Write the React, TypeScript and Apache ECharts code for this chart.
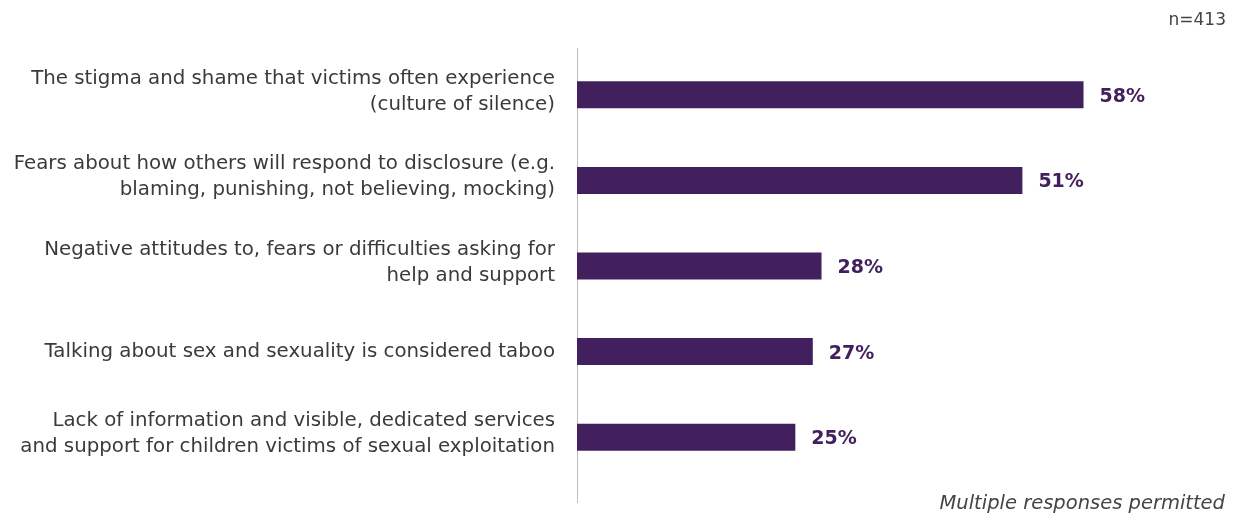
import React, { useEffect, useRef } from "react";
import * as echarts from "echarts";

const categories = [
  "The stigma and shame that victims often experience\n(culture of silence)",
  "Fears about how others will respond to disclosure (e.g.\nblaming, punishing, not believing, mocking)",
  "Negative attitudes to, fears or difficulties asking for\nhelp and support",
  "Talking about sex and sexuality is considered taboo",
  "Lack of information and visible, dedicated services\nand support for children victims of sexual exploitation",
];
const values = [58, 51, 28, 27, 25];
const sampleNote = "n=413";
const footNote = "Multiple responses permitted";

const FONT = "DejaVu Sans";

export default function App() {
  const ref = useRef<HTMLDivElement>(null);
  useEffect(() => {
    const chart = echarts.init(ref.current!, null, { renderer: "svg" });
    const labelStyle = {
      color: "#3a3a3a",
      fontSize: 19.8,
      fontFamily: FONT,
      lineHeight: 26,
      align: "right",
    };
    chart.setOption({
      animation: false,
      textStyle: { fontFamily: FONT },
      grid: { left: 577, top: 52, width: 524, height: 428, containLabel: false },
      xAxis: {
        type: "value",
        min: 0,
        max: 60,
        show: false,
      },
      yAxis: {
        type: "category",
        inverse: true,
        data: categories,
        axisLine: { show: false },
        axisTick: { show: false },
        axisLabel: {
          ...labelStyle,
          margin: 22,
          padding: [0, 0, 3, 0],
          formatter: (v: string) => {
            const lines = v.split("\n");
            const body = lines.map((l) => "{a|" + l + "}").join("\n");
            return lines.length > 1 ? body + "\n{s| }" : body;
          },
          rich: {
            a: { ...labelStyle },
            s: { fontSize: 1, lineHeight: 6, fontFamily: FONT },
          },
        },
      },
      series: [
        {
          type: "bar",
          data: values,
          barWidth: 27,
          itemStyle: { color: "#42205e" },
          label: {
            show: true,
            position: "right",
            distance: 16,
            formatter: "{c}%",
            color: "#42205e",
            fontSize: 19,
            fontWeight: "bold",
            fontFamily: FONT,
          },
        },
      ],
      graphic: [
        {
          type: "line",
          shape: { x1: 577.5, y1: 48, x2: 577.5, y2: 503 },
          style: { stroke: "#bdbdbd", lineWidth: 1 },
        },
        {
          type: "text",
          right: 15,
          top: 10,
          style: { text: sampleNote, fill: "#444", fontSize: 17, fontFamily: FONT },
        },
        {
          type: "text",
          right: 16,
          top: 492,
          style: { text: footNote, fill: "#444", fontSize: 19.5, fontStyle: "italic", fontFamily: FONT },
        },
      ],
    });
    return () => chart.dispose();
  }, []);
  return (
    <div
      ref={ref}
      style={{ position: "fixed", left: 0, top: 0, width: 1241, height: 522 }}
    />
  );
}
